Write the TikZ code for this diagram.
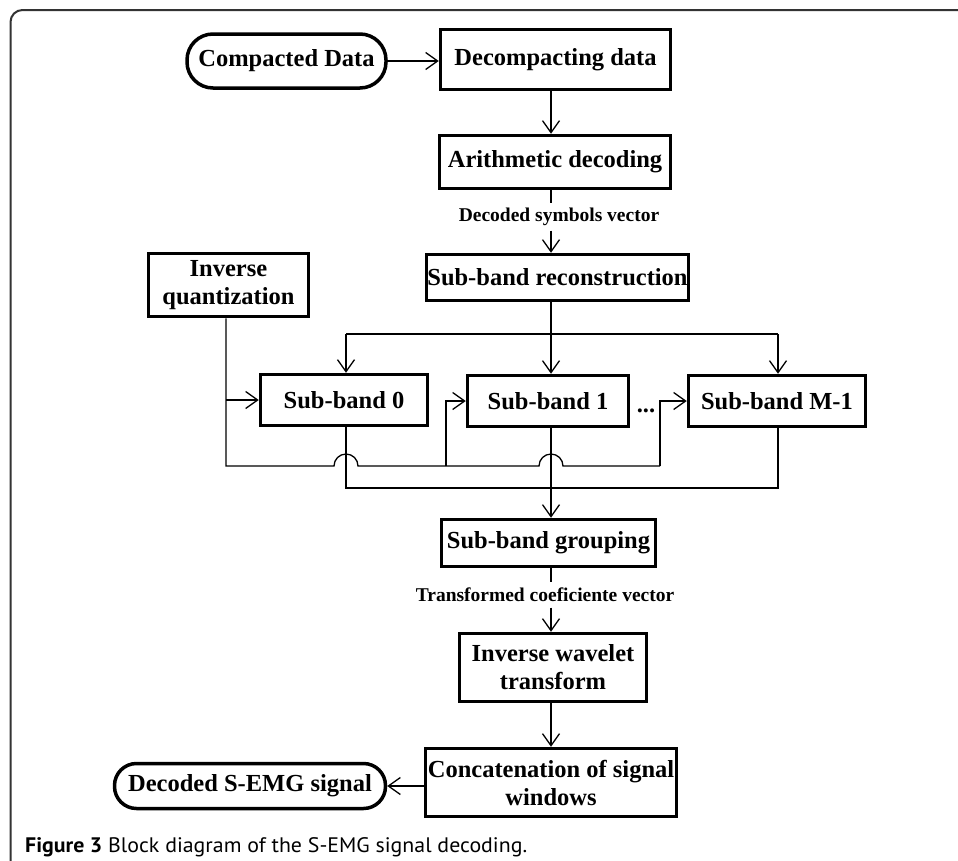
\documentclass[tikz,border=0pt]{standalone}
\usepackage{fontspec}
\usepackage{graphicx}
\setmainfont{Liberation Serif}
\newfontfamily\capfont{PT Sans}
\usetikzlibrary{arrows.meta}
\begin{document}
\begin{tikzpicture}[x=1pt,y=-1pt,
  lbl/.style={font=\fontsize{24.5}{28}\selectfont\bfseries, align=center, inner sep=0pt},
  blk/.style={lbl, draw, line width=3.5pt},
  stad/.style={lbl, draw, line width=3.5pt},
  small/.style={font=\fontsize{19.5}{22}\selectfont\bfseries, inner sep=0pt},
  ln/.style={line width=1.3pt},
  arr/.style={line width=1.3pt, -{Straight Barb[length=12pt,width=17pt,line width=1.3pt]}}]
\clip (0,0) rectangle (958,860);
\fill[white] (0,0) rectangle (958,860);
\draw[line width=2pt, draw=black!80, rounded corners=12pt] (10.5,900) -- (10.5,10) -- (1000,10);

% nodes
\node[stad, minimum width=199, minimum height=54, rounded corners=26pt] (cd) at (286.5,61) {Compacted Data};
\node[blk, minimum width=230, minimum height=60] (dec) at (555.5,59.5) {Decompacting data};
\node[blk, minimum width=231, minimum height=53] (ari) at (555,162) {Arithmetic decoding};
\node[small, minimum height=27] (l1) at (559,217) {Decoded symbols vector};
\node[blk, minimum width=262, minimum height=46] (sbr) at (557.5,277.5) {Sub-band reconstruction};
\node[blk, minimum width=160, minimum height=63] (iq) at (228.5,285) {Inverse\\quantization};
\node[blk, minimum width=167, minimum height=51] (s0) at (344,400) {Sub-band 0};
\node[blk, minimum width=161, minimum height=51] (s1) at (548,401) {Sub-band 1};
\node[blk, minimum width=177, minimum height=51] (sm) at (777,401) {Sub-band M-1};
\node[lbl, anchor=base] (dots) at (646,412) {...};
\node[blk, minimum width=214, minimum height=47] (grp) at (548.5,543) {Sub-band grouping};
\node[small, minimum height=25] (l2) at (545,595) {Transformed coeficiente vector};
\node[blk, minimum width=187, minimum height=68] (iwt) at (553,667.5) {Inverse wavelet\\transform};
\node[blk, minimum width=251, minimum height=68] (cat) at (551,782.5) {Concatenation of signal\\windows};
\node[stad, minimum width=271, minimum height=45, rounded corners=22pt] (out) at (250,786) {Decoded S-EMG signal};
\node[anchor=base west, inner sep=0pt] (cap) at (25,852) {\resizebox{502pt}{\height}{\capfont\fontsize{21}{24}\selectfont\textbf{Figure 3} Block diagram of the S-EMG signal decoding.}};

% coordinates
\coordinate (ax) at (551,0);
\coordinate (dl) at (346,334);
\coordinate (dr) at (778,334);
\coordinate (q1) at (226,466);
\coordinate (h0) at (334,466);
\coordinate (h1) at (539,466);
\coordinate (b1) at (446,466);
\coordinate (b2) at (660,466);
\coordinate (cb) at (346,488);
\coordinate (cr) at (778,488);

% connectors
\draw[arr] (cd.east) -- (dec.west |- cd.east);
\draw[arr] (dec.south -| ax) -- (ari.north -| ax);
\draw[ln] (ari.south -| ax) -- (l1.north -| ax);
\draw[arr] (l1.south -| ax) -- (sbr.north -| ax);
\draw[ln] (sbr.south -| ax) -- (ax |- dl);
\draw[ln] (dl) -- (dr);
\draw[arr] (dl) -- (s0.north -| dl);
\draw[arr] (ax |- dl) -- (s1.north -| ax);
\draw[arr] (dr) -- (sm.north -| dr);

\draw[ln] (iq.south -| q1) -- (q1) -- (h0) arc[start angle=180,end angle=0,radius=12pt] -- (h1) arc[start angle=180,end angle=0,radius=12pt] -- (b2);
\draw[arr] (q1 |- s0.west) -- (s0.west);
\draw[arr] (b1) -- (b1 |- s1.west) -- (s1.west);
\draw[arr] (b2) -- (b2 |- sm.west) -- (sm.west);

\draw[ln] (s0.south -| cb) -- (cb) -- (cr) -- (sm.south -| cr);
\draw[arr] (s1.south -| ax) -- (grp.north -| ax);
\draw[ln] (grp.south -| ax) -- (l2.north -| ax);
\draw[arr] (l2.south -| ax) -- (iwt.north -| ax);
\draw[arr] (iwt.south -| ax) -- (cat.north -| ax);
\draw[arr] (cat.west |- out.east) -- (out.east);
\end{tikzpicture}
\end{document}
